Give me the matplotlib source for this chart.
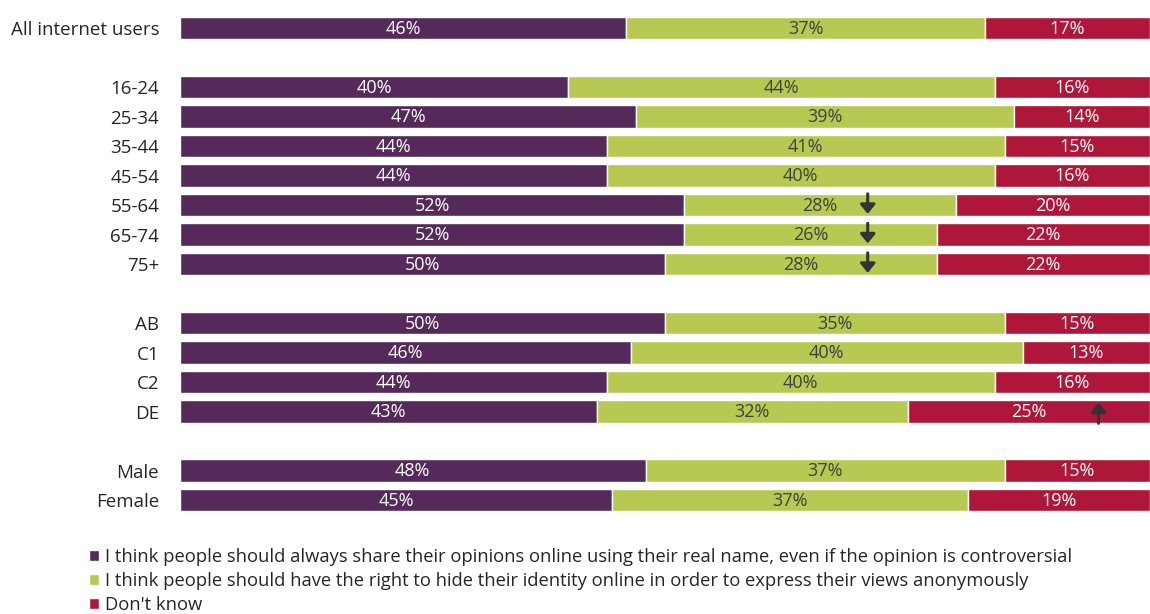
import numpy as np
import matplotlib
matplotlib.use('Agg')
import matplotlib.pyplot as plt

plt.rcParams['font.family'] = ['Open Sans', 'DejaVu Sans']

# 데이터
categories = ['All internet users', '16-24', '25-34', '35-44', '45-54', '55-64', '65-74', '75+',
              'AB', 'C1', 'C2', 'DE', 'Male', 'Female']
real_name = [46, 40, 47, 44, 44, 52, 52, 50, 50, 46, 44, 43, 48, 45]
anonymous = [37, 44, 39, 41, 40, 28, 26, 28, 35, 40, 40, 32, 37, 37]
dont_know = [17, 16, 14, 15, 16, 20, 22, 22, 15, 13, 16, 25, 15, 19]
# 유의차 화살표: (행, 방향)
arrow_rows = ['55-64', '65-74', '75+', 'DE']
arrow_dirs = ['down', 'down', 'down', 'up']

legend_labels = [
    'I think people should always share their opinions online using their real name, even if the opinion is controversial',
    'I think people should have the right to hide their identity online in order to express their views anonymously',
    "Don't know",
]
colors = ['#552a5a', '#b7c952', '#ae163a']
text_colors = ['white', '#404040', 'white']

# 그룹 사이 빈 줄
ypos = np.array([0, 2, 3, 4, 5, 6, 7, 8, 10, 11, 12, 13, 15, 16])

fig = plt.figure(figsize=(11.5, 6.14), dpi=100)
ax = fig.add_axes([180 / 1150, 0.1616, 1 - 180 / 1150, 0.9784 - 0.1616])

series = np.array([real_name, anonymous, dont_know], dtype=float)
totals = series.sum(axis=0)
shares = series / totals * 100  # 행 합계를 100으로 맞춤
left = np.zeros(len(categories))
for i, (vals, lab) in enumerate(zip(shares, legend_labels)):
    ax.barh(ypos, vals, left=left, height=0.75, color=colors[i], edgecolor='white',
            linewidth=1, label=lab)
    for y, l, w, v in zip(ypos, left, vals, series[i]):
        ax.text(l + w / 2, y + 0.03, '%d%%' % v, ha='center', va='center',
                fontsize=13, color=text_colors[i])
    left = left + vals

# 화살표 (아래: 초록 구간, 위: DE 빨간 구간)
for cat, d in zip(arrow_rows, arrow_dirs):
    y = ypos[categories.index(cat)]
    if d == 'down':
        x = 70.9
        ax.annotate('', xy=(x, y + 0.3), xytext=(x, y - 0.38),
                    arrowprops=dict(arrowstyle='-|>,head_width=0.45,head_length=0.55',
                                    color='#333333', lw=2.2, shrinkA=0, shrinkB=0))
    else:
        x = 94.7
        ax.annotate('', xy=(x, y - 0.3), xytext=(x, y + 0.4),
                    arrowprops=dict(arrowstyle='-|>,head_width=0.45,head_length=0.55',
                                    color='#333333', lw=2.2, shrinkA=0, shrinkB=0))

ax.set_xlim(0, 100)
ax.set_ylim(16.5, -0.5)
ax.set_yticks(ypos)
ax.set_yticklabels(categories, fontsize=13.5, color='#262626')
ax.tick_params(axis='y', length=0, pad=15)
ax.set_xticks([])
for s in ax.spines.values():
    s.set_visible(False)

fig.legend(loc='upper left', bbox_to_anchor=(82 / 1150, 1 - 541 / 614), frameon=False,
           fontsize=13.2, handlelength=0.55, handleheight=0.55, handletextpad=0.3,
           labelspacing=0.32, borderaxespad=0, labelcolor='#262626')

plt.savefig('out.png', dpi=100)
